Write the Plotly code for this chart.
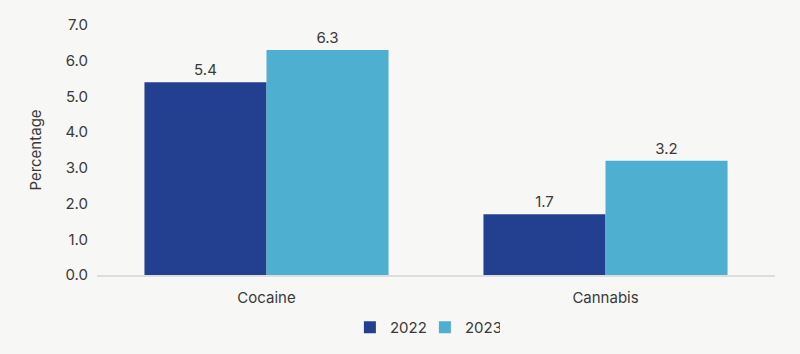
import plotly.graph_objects as go

categories = ["Cocaine", "Cannabis"]
years = ["2022", "2023"]
values_2022 = [5.4, 1.7]
values_2023 = [6.3, 3.2]
colors = ["#233F8F", "#4FAFD0"]
tick_vals = [0, 1, 2, 3, 4, 5, 6, 7]

font_family = "Inter, Lato, sans-serif"
text_color = "#3a3a3a"

fig = go.Figure()
for name, vals, col in zip(years, [values_2022, values_2023], colors):
    fig.add_trace(go.Bar(
        x=categories, y=vals, name=name, marker_color=col,
        marker_line_width=0,
        text=[f"{v:.1f}" for v in vals], textposition="outside",
        textfont=dict(size=15, color=text_color, family=font_family),
        cliponaxis=False,
    ))

fig.update_layout(
    width=800, height=354,
    margin=dict(l=97, r=25, t=25, b=79, autoexpand=False),
    paper_bgcolor="#F7F7F5", plot_bgcolor="#F7F7F5",
    barmode="group", bargap=0.28, bargroupgap=0,
    font=dict(family=font_family, size=15, color=text_color),
    showlegend=True,
    legend=dict(orientation="h", x=0.373, xanchor="left", y=-0.21, yanchor="middle",
                font=dict(size=15, color=text_color), itemsizing="constant",
                entrywidth=30, entrywidthmode="pixels",
                traceorder="normal"),
    xaxis=dict(showgrid=False, showline=True, linecolor="#DDDDDD", linewidth=2,
               ticks="", ticklabelstandoff=8, tickfont=dict(size=15, color=text_color)),
    yaxis=dict(range=[0, 7], tickvals=tick_vals, tickformat=".1f", showgrid=False,
               zeroline=False, showline=False, ticks="", ticklabelstandoff=8,
               tickfont=dict(size=15, color=text_color),
               title=dict(text="Percentage", font=dict(size=15, color=text_color), standoff=20)),
)

fig.write_html("out.html")
